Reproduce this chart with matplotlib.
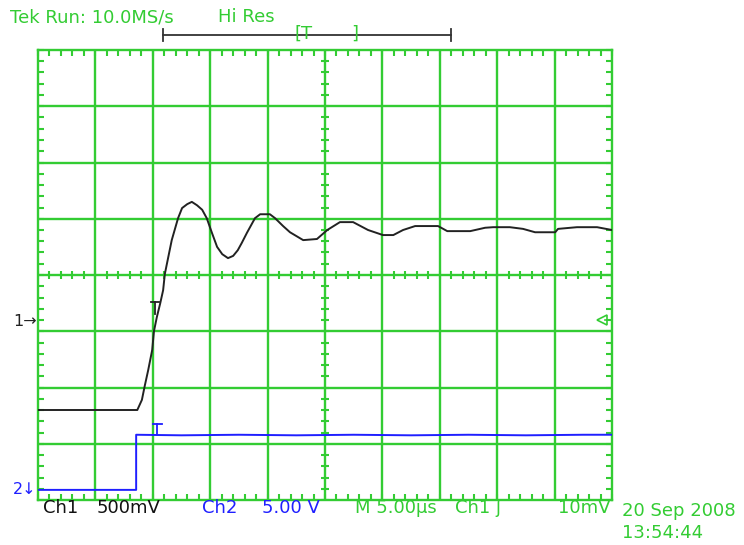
import numpy as np
import matplotlib
matplotlib.use("Agg")
import matplotlib.pyplot as plt

# Screen coordinates in divisions: 10 horizontal (5 us/div), 8 vertical
ch1_x = [0.00, 1.73, 1.81, 1.86, 1.92, 1.99, 2.02, 2.07, 2.13, 2.18, 2.21, 2.27,
         2.33, 2.44, 2.51, 2.60, 2.68, 2.77, 2.86, 2.94, 3.03, 3.12, 3.21, 3.31,
         3.40, 3.48, 3.55, 3.64, 3.78, 3.87, 4.04, 4.13, 4.27, 4.39, 4.62, 4.86,
         5.04, 5.26, 5.49, 5.75, 6.01, 6.19, 6.36, 6.57, 6.97, 7.13, 7.53, 7.79,
         7.93, 8.22, 8.45, 8.66, 9.01, 9.06, 9.39, 9.74, 10.00]
ch1_y = [1.60, 1.60, 1.78, 2.03, 2.31, 2.67, 3.00, 3.25, 3.50, 3.73, 4.02, 4.32,
         4.62, 5.01, 5.19, 5.26, 5.30, 5.24, 5.16, 5.01, 4.75, 4.50, 4.37, 4.30,
         4.34, 4.44, 4.57, 4.75, 5.01, 5.08, 5.08, 5.01, 4.87, 4.76, 4.62, 4.64,
         4.80, 4.94, 4.94, 4.80, 4.71, 4.71, 4.80, 4.87, 4.87, 4.78, 4.78, 4.84,
         4.85, 4.85, 4.82, 4.76, 4.76, 4.82, 4.85, 4.85, 4.80]

ch2_x = [0.00, 1.71, 1.71, 2.50, 3.50, 4.50, 5.50, 6.50, 7.50, 8.50, 9.50, 10.00]
ch2_y = [0.18, 0.18, 1.16, 1.15, 1.16, 1.15, 1.16, 1.15, 1.16, 1.15, 1.16, 1.16]

trig_x = 2.04
trig_level = 3.20

GREEN = "#33cc33"
BLUE = "#1f1fff"
INK = "#222222"
FS = 13
W, H = 744, 545


def fx(px):
    return px / W


def fy(py):
    return 1 - py / H


fig = plt.figure(figsize=(W / 100, H / 100), dpi=100)
ax = fig.add_axes([fx(38), fy(500), 574 / W, 450 / H])
ax.set_xlim(0, 10)
ax.set_ylim(0, 8)
for s in ax.spines.values():
    s.set_color(GREEN)
    s.set_linewidth(1.7)

# graticule lines
for i in range(1, 10):
    ax.axvline(i, color=GREEN, lw=1.7, zorder=1)
for j in range(1, 8):
    ax.axhline(j, color=GREEN, lw=1.7, zorder=1)

# minor ticks along the border (pointing inward)
ax.set_xticks(np.arange(0, 10.001, 0.2))
ax.set_yticks(np.arange(0, 8.001, 0.2))
ax.tick_params(direction="in", length=4, width=1.5, colors=GREEN,
               top=True, right=True, labelbottom=False, labelleft=False)

# minor ticks across the centre lines
mx = np.arange(0, 10.001, 0.2)
my = np.arange(0, 8.001, 0.2)
ax.vlines(mx, 4 - 0.075, 4 + 0.075, color=GREEN, lw=1.5, zorder=1)
ax.hlines(my, 5 - 0.07, 5 + 0.07, color=GREEN, lw=1.5, zorder=1)

# traces
ax.plot(ch1_x, ch1_y, color=INK, lw=1.4, zorder=3)
ax.plot(ch2_x, ch2_y, color=BLUE, lw=1.4, zorder=3)

# trigger markers on the traces
ax.plot([trig_x - 0.07, trig_x + 0.07], [3.52, 3.52], color=INK, lw=1.3, zorder=4)
ax.plot([trig_x, trig_x], [3.52, 3.30], color=INK, lw=1.3, zorder=4)
ax.plot([trig_x + 0.04 - 0.08, trig_x + 0.04 + 0.08], [1.36, 1.36], color=BLUE, lw=1.3, zorder=4)
ax.plot([trig_x + 0.04, trig_x + 0.04], [1.36, 1.16], color=BLUE, lw=1.3, zorder=4)

# trigger level indicator on the right edge
ax.plot([9.83], [trig_level], marker="<", ms=7, mfc="none", mec=GREEN, mew=1.2,
        clip_on=False, zorder=5)
ax.plot([9.88, 9.97], [trig_level, trig_level], color=GREEN, lw=1.2, zorder=5)

# channel ground markers
fig.text(fx(13), fy(322), "1\u2192", color=INK, fontsize=11.5, va="center", ha="left")
fig.text(fx(13), fy(490), "2\u2193", color=BLUE, fontsize=11.5, va="center", ha="left")

# header
fig.text(fx(10), fy(17), "Tek Run: 10.0MS/s", color=GREEN, fontsize=FS, va="center")
fig.text(fx(218), fy(17), "Hi Res", color=GREEN, fontsize=FS, va="center")

# record position bar
fig.add_artist(plt.Line2D([fx(163), fx(451)], [fy(35), fy(35)], color="#333333", lw=1.3))
for xp in (163, 451):
    fig.add_artist(plt.Line2D([fx(xp), fx(xp)], [fy(29), fy(41)], color="#333333", lw=1.3))
fig.text(fx(294), fy(34), "[T", color=GREEN, fontsize=FS, va="center")
fig.text(fx(351), fy(34), "]", color=GREEN, fontsize=FS, va="center")

# footer
fig.text(fx(43), fy(508), "Ch1", color="#111111", fontsize=FS, va="center")
fig.text(fx(97), fy(508), "500mV", color="#111111", fontsize=FS, va="center")
fig.text(fx(202), fy(508), "Ch2", color=BLUE, fontsize=FS, va="center")
fig.text(fx(262), fy(508), "5.00 V", color=BLUE, fontsize=FS, va="center")
fig.text(fx(355), fy(508), "M 5.00\u00b5s", color=GREEN, fontsize=FS, va="center")
fig.text(fx(455), fy(508), "Ch1 \u0283", color=GREEN, fontsize=FS, va="center")
fig.text(fx(558), fy(508), "10mV", color=GREEN, fontsize=FS, va="center")
fig.text(fx(622), fy(511), "20 Sep 2008", color=GREEN, fontsize=FS, va="center")
fig.text(fx(622), fy(533), "13:54:44", color=GREEN, fontsize=FS, va="center")

fig.savefig("out.png", dpi=100, facecolor="white")
